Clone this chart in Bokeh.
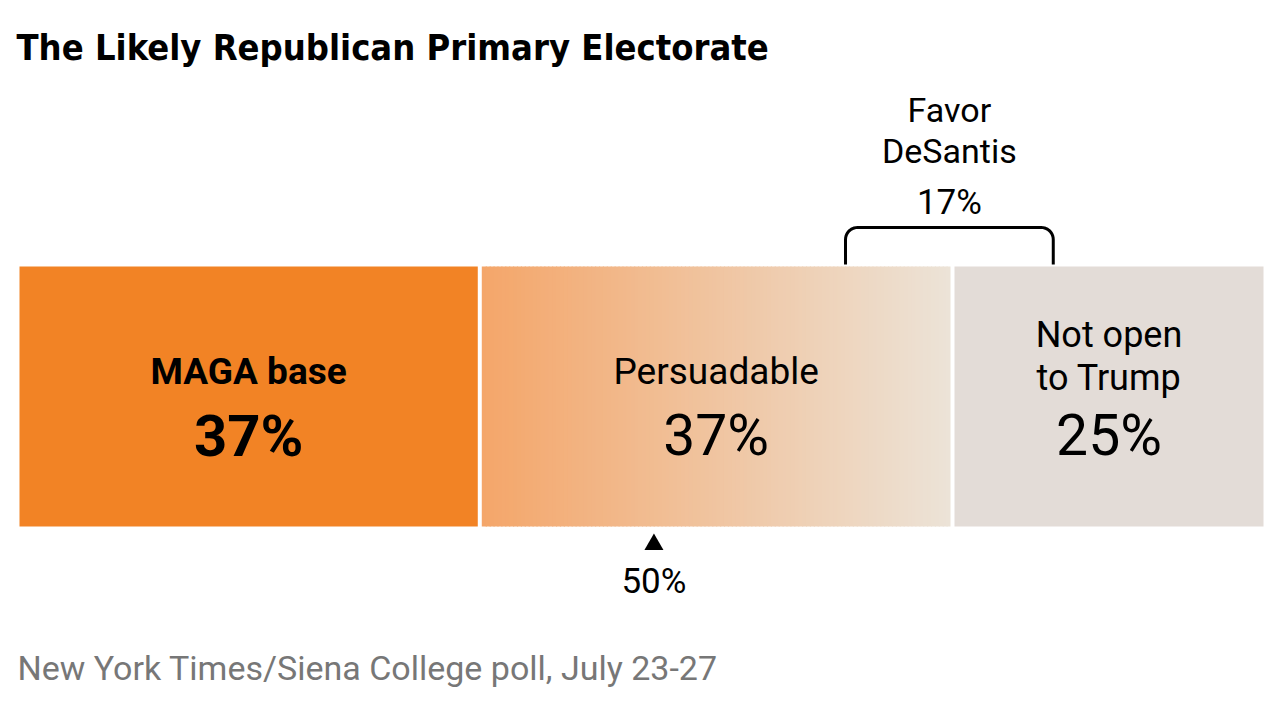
from bokeh.plotting import figure
from bokeh.models import Range1d
from bokeh.core.properties import value
from bokeh.embed import file_html
from bokeh.resources import INLINE
import numpy as np

# ---- data ----
segments = ["MAGA base", "Persuadable", "Not open to Trump"]
seg_widths = [37, 38, 25]          # share of electorate (bar widths)
seg_labels = ["37%", "37%", "25%"]
bracket_range = [66.4, 83.1]       # "Favor DeSantis" span
bracket_label = "17%"
marker_pos = 51
marker_label = "50%"

W, H = 1280, 721
X0_PX, X1_PX = 19, 1263
scale = (X1_PX - X0_PX) / 100.0
def px(xp):
    return (xp - X0_PX) / scale

p = figure(width=W, height=H, output_backend="svg", toolbar_location=None,
           x_range=Range1d(px(0), px(W)), y_range=Range1d(H, 0),
           min_border=0, outline_line_color=None, background_fill_color="white",
           border_fill_color="white")
p.axis.visible = False
p.grid.visible = False

TITLE_FONT = "DejaVu Sans Condensed"
BODY = "Roboto"

bar_top, bar_bot = 266, 526
gap = 4 / scale
starts = np.concatenate([[0], np.cumsum(seg_widths)[:-1]])
ends = np.cumsum(seg_widths)
lefts = [s + (gap / 2 if i > 0 else 0) for i, s in enumerate(starts)]
rights = [e - (gap / 2 if i < len(ends) - 1 else 0) for i, e in enumerate(ends)]

# MAGA
p.quad(left=[lefts[0]], right=[rights[0]], top=[bar_top], bottom=[bar_bot],
       fill_color="#F28325", line_color=None)
# Persuadable gradient
n = 120
c0 = np.array([0xF4, 0xA6, 0x6A])
c1 = np.array([0xEC, 0xE3, 0xD7])
edges = np.linspace(lefts[1], rights[1], n + 1)
cols = []
for i in range(n):
    t = i / (n - 1)
    c = (c0 + (c1 - c0) * t).round().astype(int)
    cols.append("#%02x%02x%02x" % tuple(c))
p.quad(left=edges[:-1], right=edges[1:] + (edges[1] - edges[0]) * 0.3 * (np.arange(n) < n - 1),
       top=bar_top, bottom=bar_bot, fill_color=cols, line_color=None)
# Not open
p.quad(left=[lefts[2]], right=[rights[2]], top=[bar_top], bottom=[bar_bot],
       fill_color="#E3DCD7", line_color=None)

centers = [(l + r) / 2 for l, r in zip(lefts, rights)]

# labels
p.text(x=[centers[0]], y=[371], text=["MAGA base"], text_align="center", text_baseline="middle",
       text_font=value(BODY), text_font_style="bold", text_font_size="37px", text_color="#000")
p.text(x=[centers[0]], y=[435], text=[seg_labels[0]], text_align="center", text_baseline="middle",
       text_font=value(BODY), text_font_style="bold", text_font_size="58px", text_color="#000")
p.text(x=[centers[1]], y=[371], text=["Persuadable"], text_align="center", text_baseline="middle",
       text_font=value(BODY), text_font_size="37px", text_color="#000")
p.text(x=[centers[1]], y=[435], text=[seg_labels[1]], text_align="center", text_baseline="middle",
       text_font=value(BODY), text_font_style="normal", text_font_size="57px", text_color="#000")
p.text(x=[centers[2], centers[2]], y=[334, 377], text=["Not open", "to Trump"], text_align="center",
       text_baseline="middle", text_font=value(BODY), text_font_size="36px", text_color="#000")
p.text(x=[centers[2]], y=[435], text=[seg_labels[2]], text_align="center", text_baseline="middle",
       text_font=value(BODY), text_font_size="57px", text_color="#000")

# bracket
bl, br = bracket_range
bx_l, bx_r = X0_PX + bl * scale, X0_PX + br * scale
btop, bbot, rad = 227, 264, 12
pts_x, pts_y = [bx_l], [bbot]
pts_x.append(bx_l); pts_y.append(btop + rad)
th = np.linspace(np.pi, 1.5 * np.pi, 12)
pts_x += list(bx_l + rad + rad * np.cos(th)); pts_y += list(btop + rad + rad * np.sin(th))
th = np.linspace(1.5 * np.pi, 2 * np.pi, 12)
pts_x += list(bx_r - rad + rad * np.cos(th)); pts_y += list(btop + rad + rad * np.sin(th))
pts_x.append(bx_r); pts_y.append(bbot)
p.line(x=[px(v) for v in pts_x], y=pts_y, line_color="#000", line_width=3, line_join="round")
bc = (bl + br) / 2
p.text(x=[bc, bc], y=[109, 150], text=["Favor", "DeSantis"], text_align="center", text_baseline="middle",
       text_font=value(BODY), text_font_size="34px", text_color="#000")
p.text(x=[bc], y=[202], text=[bracket_label], text_align="center", text_baseline="middle",
       text_font=value(BODY), text_font_size="35px", text_color="#000")

# marker
p.scatter(x=[marker_pos], y=[544], marker="triangle", size=19, fill_color="#000", line_color=None)
p.text(x=[marker_pos], y=[581], text=[marker_label], text_align="center", text_baseline="middle",
       text_font=value(BODY), text_font_size="35px", text_color="#000")

# title and source
p.text(x=[px(16)], y=[47], text=["The Likely Republican Primary Electorate"], text_align="left",
       text_baseline="middle", text_font=value(TITLE_FONT), text_font_style="bold", text_font_size="36px",
       text_color="#000")
p.text(x=[px(17)], y=[667], text=["New York Times/Siena College poll, July 23-27"], text_align="left",
       text_baseline="middle", text_font=value(BODY), text_font_size="34px", text_color="#777777")

open("out.html", "w").write(file_html(p, INLINE))
